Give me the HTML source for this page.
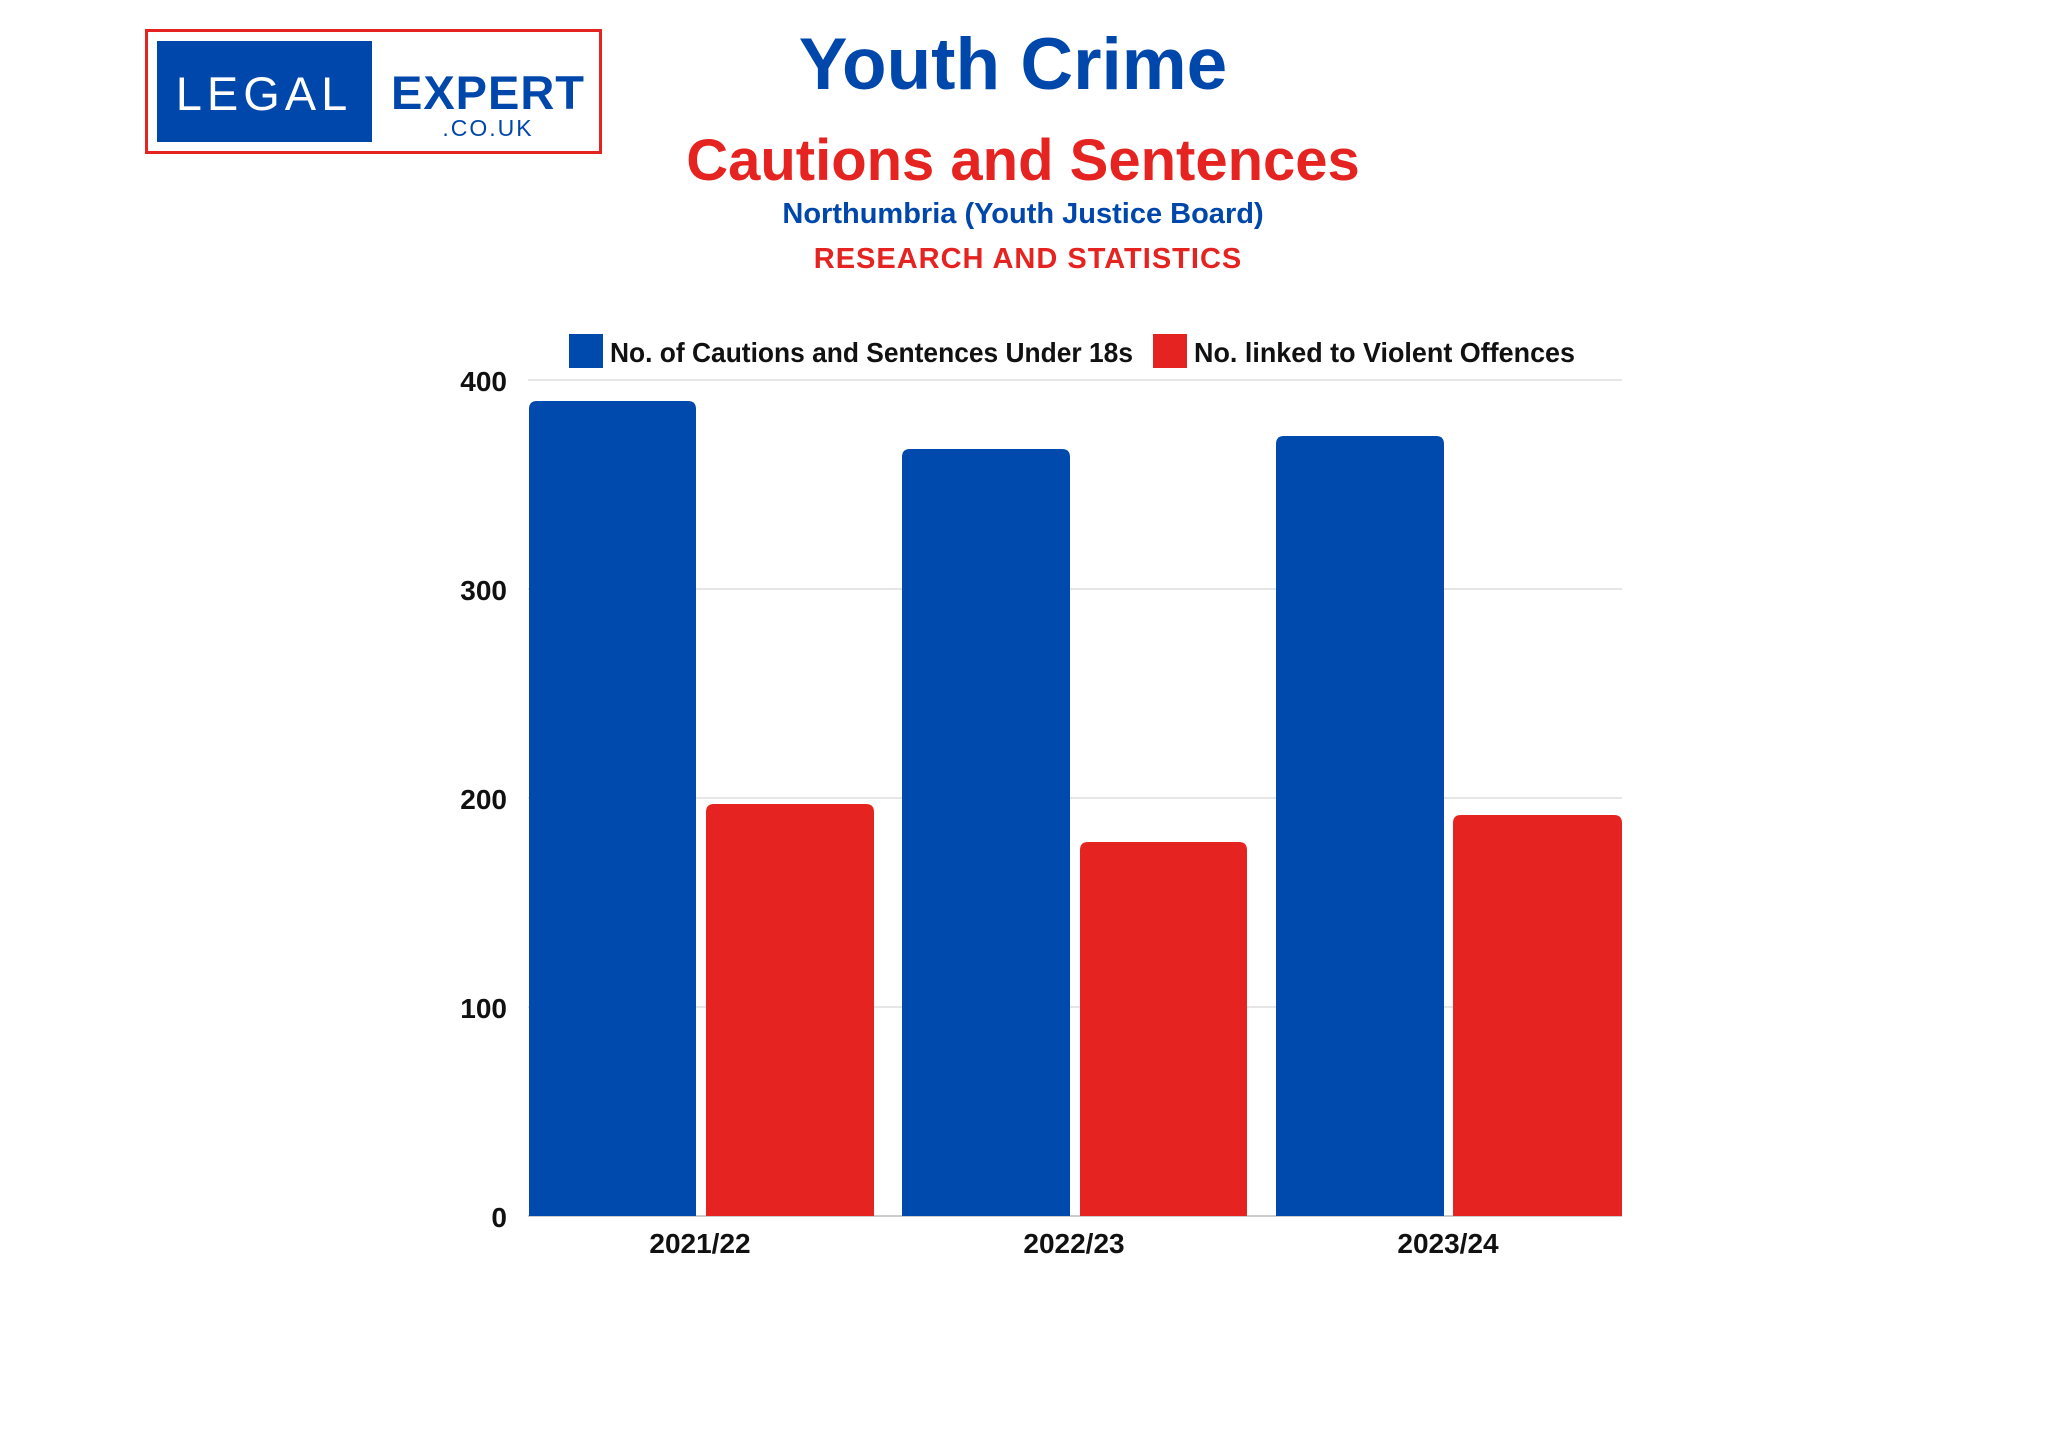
<!DOCTYPE html>
<html><head><meta charset="utf-8"><style>
html,body{margin:0;padding:0;background:#fff;}
svg{display:block;font-family:"Liberation Sans",Arial,sans-serif;}
</style></head><body>
<svg width="2048" height="1434" viewBox="0 0 2048 1434" xmlns="http://www.w3.org/2000/svg">
<rect width="2048" height="1434" fill="#fff"/>
<!-- logo -->
<rect x="146.5" y="30.5" width="454" height="122" fill="#fff" stroke="#e52421" stroke-width="3"/>
<rect x="157" y="41" width="215" height="101" fill="#0047ab"/>
<text x="264" y="110" text-anchor="middle" fill="#fff" font-size="47" letter-spacing="5">LEGAL</text>
<text x="488" y="109" text-anchor="middle" fill="#0047ab" font-size="47" font-weight="bold" letter-spacing="1">EXPERT</text>
<text x="488" y="136" text-anchor="middle" fill="#0047ab" font-size="23" letter-spacing="2">.CO.UK</text>
<!-- titles -->
<text x="1013" y="89" text-anchor="middle" fill="#0047ab" font-size="73" font-weight="bold">Youth Crime</text>
<text x="1023" y="180" text-anchor="middle" fill="#e52421" font-size="58" font-weight="bold">Cautions and Sentences</text>
<text x="1023" y="223" text-anchor="middle" fill="#0047ab" font-size="29" font-weight="bold">Northumbria (Youth Justice Board)</text>
<text x="1028" y="268" text-anchor="middle" fill="#e52421" font-size="29" font-weight="bold" letter-spacing="1">RESEARCH AND STATISTICS</text>
<!-- legend -->
<rect x="569" y="334" width="34" height="34" fill="#004aad"/>
<text x="610" y="362" fill="#111" font-size="28" font-weight="bold" textLength="523" lengthAdjust="spacingAndGlyphs">No. of Cautions and Sentences Under 18s</text>
<rect x="1153" y="334" width="34" height="34" fill="#e52421"/>
<text x="1194" y="362" fill="#111" font-size="28" font-weight="bold" textLength="381" lengthAdjust="spacingAndGlyphs">No. linked to Violent Offences</text>
<!-- grid -->
<g stroke="#e6e6e6" stroke-width="2">
<line x1="528" y1="380" x2="1622" y2="380"/>
<line x1="528" y1="589" x2="1622" y2="589"/>
<line x1="528" y1="798" x2="1622" y2="798"/>
<line x1="528" y1="1007" x2="1622" y2="1007"/>
</g>
<line x1="528" y1="1216" x2="1622" y2="1216" stroke="#ccc" stroke-width="2"/>
<!-- y labels -->
<g fill="#111" font-size="28" font-weight="bold" text-anchor="end">
<text x="507" y="391">400</text>
<text x="507" y="600">300</text>
<text x="507" y="809">200</text>
<text x="507" y="1018">100</text>
<text x="507" y="1227">0</text>
</g>
<!-- bars -->
<g fill="#004aad">
<path d="M529 1216V409q0-8 8-8h151q8 0 8 8V1216z"/>
<path d="M902 1216V457q0-8 8-8h152q8 0 8 8V1216z"/>
<path d="M1276 1216V444q0-8 8-8h152q8 0 8 8V1216z"/>
</g>
<g fill="#e52421">
<path d="M706 1216V812q0-8 8-8h152q8 0 8 8V1216z"/>
<path d="M1080 1216V850q0-8 8-8h151q8 0 8 8V1216z"/>
<path d="M1453 1216V823q0-8 8-8h153q8 0 8 8V1216z"/>
</g>
<!-- x labels -->
<g fill="#111" font-size="28" font-weight="bold" text-anchor="middle">
<text x="700" y="1253">2021/22</text>
<text x="1074" y="1253">2022/23</text>
<text x="1448" y="1253">2023/24</text>
</g>
</svg>
</body></html>
